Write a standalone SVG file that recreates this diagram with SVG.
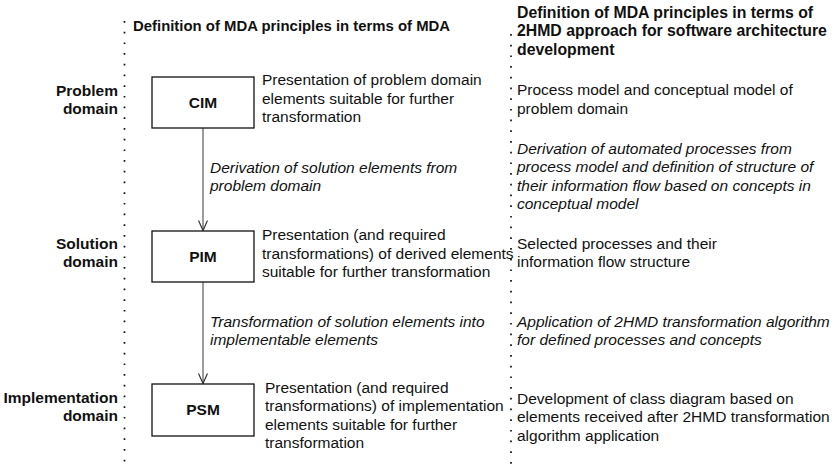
<svg xmlns="http://www.w3.org/2000/svg" width="837" height="464" viewBox="0 0 837 464">
<style>
text{font-family:"Liberation Sans",Arial,sans-serif;font-size:15.5px;fill:#111}
.b{font-weight:bold}
.i{font-style:italic}
.r{text-anchor:end}
.c{text-anchor:middle}
.h2{font-size:15.8px}
.box{fill:#fff;stroke:#111;stroke-width:1.3}
.dots{stroke:#111;stroke-width:1.7;stroke-dasharray:1.7 9;fill:none}
.conn{stroke:#666;stroke-width:1.3;fill:none}
</style>
<defs>
<marker id="arr" viewBox="0 0 12 10" refX="11" refY="5" markerWidth="12" markerHeight="10" markerUnits="userSpaceOnUse" orient="auto">
<path d="M1,0.5 L11,5 L1,9.5" fill="none" stroke="#333" stroke-width="1.2"/>
</marker>
</defs>
<rect width="837" height="464" fill="#fff"/>
<g id="separators">
<line class="dots" x1="124.5" y1="21" x2="124.5" y2="464"/>
<line class="dots" x1="511" y1="34" x2="511" y2="464"/>
</g>
<g id="headings">
<text class="b" x="133" y="31" style="font-size:14.9px">Definition of MDA principles in terms of MDA</text>
<text class="b h2" x="517" y="18">Definition of MDA principles in terms of</text>
<text class="b h2" x="517" y="36">2HMD approach for software architecture</text>
<text class="b h2" x="517" y="55">development</text>
</g>
<g id="domains">
<text class="b r" x="118" y="96">Problem</text>
<text class="b r" x="118" y="114">domain</text>
<text class="b r" x="118" y="249">Solution</text>
<text class="b r" x="118" y="267">domain</text>
<text class="b r" x="118" y="403">Implementation</text>
<text class="b r" x="118" y="421">domain</text>
</g>
<g id="connectors">
<line class="conn" x1="203" y1="128" x2="203" y2="230.5" marker-end="url(#arr)"/>
<line class="conn" x1="203" y1="282" x2="203" y2="383.5" marker-end="url(#arr)"/>
</g>
<g id="cim">
<rect class="box" x="152" y="77" width="102" height="51"/>
<text class="b c" x="203" y="108">CIM</text>
<text x="262" y="85">Presentation of problem domain</text>
<text x="262" y="104">elements suitable for further</text>
<text x="262" y="122">transformation</text>
</g>
<g id="derivation">
<text class="i" x="210" y="173">Derivation of solution elements from</text>
<text class="i" x="210" y="191">problem domain</text>
</g>
<g id="pim">
<rect class="box" x="152" y="231" width="102" height="51"/>
<text class="b c" x="203" y="262">PIM</text>
<text x="262" y="240">Presentation (and required</text>
<text x="262" y="259">transformations) of derived elements</text>
<text x="262" y="277">suitable for further transformation</text>
</g>
<g id="transformation">
<text class="i" x="210" y="327">Transformation of solution elements into</text>
<text class="i" x="210" y="345">implementable elements</text>
</g>
<g id="psm">
<rect class="box" x="152" y="384" width="102" height="52"/>
<text class="b c" x="203" y="415">PSM</text>
<text x="265" y="393">Presentation (and required</text>
<text x="265" y="411">transformations) of implementation</text>
<text x="265" y="430">elements suitable for further</text>
<text x="265" y="448">transformation</text>
</g>
<g id="right-column">
<text x="517" y="95">Process model and conceptual model of</text>
<text x="517" y="114">problem domain</text>
<text class="i" x="517" y="154">Derivation of automated processes from</text>
<text class="i" x="517" y="172">process model and definition of structure of</text>
<text class="i" x="517" y="191">their information flow based on concepts in</text>
<text class="i" x="517" y="209">conceptual model</text>
<text x="517" y="249">Selected processes and their</text>
<text x="517" y="267">information flow structure</text>
<text class="i" x="517" y="327">Application of 2HMD transformation algorithm</text>
<text class="i" x="517" y="345">for defined processes and concepts</text>
<text x="517" y="404">Development of class diagram based on</text>
<text x="517" y="422">elements received after 2HMD transformation</text>
<text x="517" y="441">algorithm application</text>
</g>
</svg>
